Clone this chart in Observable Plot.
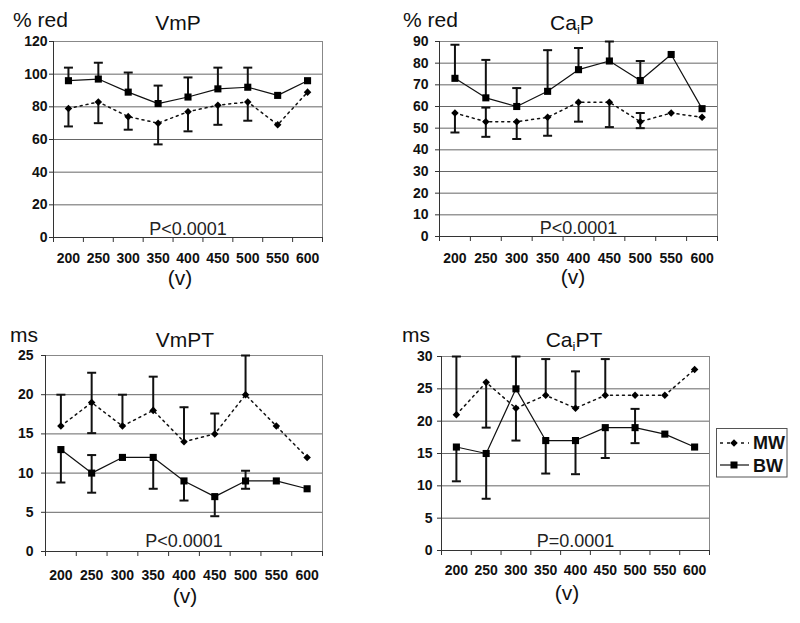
<!DOCTYPE html>
<html>
<head>
<meta charset="utf-8">
<script src="https://cdn.jsdelivr.net/npm/d3@7"></script>
<script src="https://cdn.jsdelivr.net/npm/@observablehq/plot@0.6"></script>
<style>
  html, body { margin: 0; padding: 0; background: #fff; }
  #wrap { position: relative; width: 800px; height: 623px; overflow: hidden; background: #fff; }
  #wrap > svg, #wrap > figure { position: absolute; margin: 0; }
</style>
</head>
<body>
<div id="wrap"></div>
<script>
// ---------- data ----------
const voltages = [200, 250, 300, 350, 400, 450, 500, 550, 600];

// VmP (% red)
const vmpMW   = [79, 83, 74, 70, 77, 81, 83, 69, 89];
const vmpMWLo = [68, 70, 66, 57, 65, 69, 71.5, null, null];
const vmpMWHi = [null, null, null, null, null, null, null, null, null];
const vmpBW   = [96, 97, 89, 82, 86, 91, 92, 87, 96];
const vmpBWLo = [null, null, null, null, null, null, null, null, null];
const vmpBWHi = [104, 107, 101, 93, 98, 104, 104, null, null];

// CaiP (% red)
const caipMW   = [57, 53, 53, 55, 62, 62, 53, 57, 55];
const caipMWLo = [48, 46, 45, 46.5, 53, 50.5, 50, null, null];
const caipMWHi = [null, 59.5, null, null, null, null, 57, null, null];
const caipBW   = [73, 64, 60, 67, 77, 81, 72, 84, 59];
const caipBWLo = [null, null, null, null, null, null, null, null, null];
const caipBWHi = [88.5, 81.5, 68.5, 86, 87, 90, 81, null, null];

// VmPT (ms)
const vmptMW   = [16, 19, 16, 18, 14, 15, 20, 16, 12];
const vmptMWLo = [null, 15.1, null, null, null, null, null, null, null];
const vmptMWHi = [20, 22.8, 20, 22.3, 18.4, 17.6, 25, null, null];
const vmptBW   = [13, 10, 12, 12, 9, 7, 9, 9, 8];
const vmptBWLo = [8.8, 7.5, null, 8, 6.5, 4.5, 8, null, null];
const vmptBWHi = [null, 12.3, null, null, null, null, 10.3, null, null];

// CaiPT (ms)
const caiptMW   = [21, 26, 22, 24, 22, 24, 24, 24, 28];
const caiptMWLo = [null, 19, 17, null, null, null, null, null, null];
const caiptMWHi = [30, null, null, 29.6, 27.7, 29.6, null, null, null];
const caiptBW   = [16, 15, 25, 17, 17, 19, 19, 18, 16];
const caiptBWLo = [10.7, 8, null, 11.9, 11.8, 14.3, 16.6, null, null];
const caiptBWHi = [null, null, 30, null, null, null, 21.9, null, null];

const ticksVmP  = [0, 20, 40, 60, 80, 100, 120];
const ticksCaiP = [0, 10, 20, 30, 40, 50, 60, 70, 80, 90];
const ticksVmPT = [0, 5, 10, 15, 20, 25];
const ticksCaiPT = [0, 5, 10, 15, 20, 25, 30];

const pVmP = "P<0.0001", pCaiP = "P<0.0001", pVmPT = "P<0.0001", pCaiPT = "P=0.0001";

// ---------- drawing ----------
const FONT = '"Liberation Sans", Arial, Helvetica, sans-serif';
const step = voltages[1] - voltages[0];
const bounds = voltages.map(v => v - step / 2).concat([voltages[voltages.length - 1] + step / 2]);

const capSym = { draw(ctx) { ctx.moveTo(-4.5, 0); ctx.lineTo(4.5, 0); } };
const diamondSym = { draw(ctx, size) { const r = Math.sqrt(size / 2); ctx.moveTo(0, -r); ctx.lineTo(r, 0); ctx.lineTo(0, r); ctx.lineTo(-r, 0); ctx.closePath(); } };

function series(vals, lo, hi) {
  const pts = voltages.map((v, i) => ({ x: v, y: vals[i] }));
  const bars = [], caps = [];
  voltages.forEach((v, i) => {
    if (lo[i] != null || hi[i] != null) {
      bars.push({ x: v, y1: lo[i] != null ? lo[i] : vals[i], y2: hi[i] != null ? hi[i] : vals[i] });
      if (lo[i] != null) caps.push({ x: v, y: lo[i] });
      if (hi[i] != null) caps.push({ x: v, y: hi[i] });
    }
  });
  return { pts, bars, caps };
}

function panel(cfg) {
  const mw = series(cfg.mw, cfg.mwLo, cfg.mwHi);
  const bw = series(cfg.bw, cfg.bwLo, cfg.bwHi);
  const yMax = cfg.ticks[cfg.ticks.length - 1];
  const chart = Plot.plot({
    width: cfg.width, height: cfg.height,
    marginLeft: cfg.m[0], marginRight: cfg.m[1], marginTop: cfg.m[2], marginBottom: cfg.m[3],
    style: { fontFamily: FONT, background: "transparent", overflow: "visible", color: "#111" },
    x: { domain: [bounds[0], bounds[bounds.length - 1]] },
    y: { domain: [0, yMax] },
    marks: [
      Plot.ruleY(cfg.ticks, { stroke: "#666", strokeWidth: 1 }),
      Plot.frame({ stroke: "#888", strokeWidth: 1 }),
      Plot.ruleX([bounds[0]], { stroke: "#333", strokeWidth: 1 }),
      Plot.ruleY([0], { stroke: "#333", strokeWidth: 1 }),
      Plot.axisY(cfg.ticks, { tickSize: 4, tickPadding: cfg.yPad, fontSize: 14, fontWeight: "bold", label: null, stroke: "#333" }),
      Plot.axisX(bounds, { tickSize: 5, tickFormat: () => "", label: null, stroke: "#333" }),
      Plot.axisX(voltages, { tickSize: 0, tickPadding: cfg.xPad, fontSize: 14, fontWeight: "bold", label: null }),
      Plot.ruleX(mw.bars, { x: "x", y1: "y1", y2: "y2", stroke: "#111", strokeWidth: 2 }),
      Plot.ruleX(bw.bars, { x: "x", y1: "y1", y2: "y2", stroke: "#111", strokeWidth: 2 }),
      Plot.dot(mw.caps, { x: "x", y: "y", symbol: capSym, stroke: "#111", strokeWidth: 2, fill: "none" }),
      Plot.dot(bw.caps, { x: "x", y: "y", symbol: capSym, stroke: "#111", strokeWidth: 2, fill: "none" }),
      Plot.line(mw.pts, { x: "x", y: "y", stroke: "#111", strokeWidth: 1.5, strokeDasharray: "2,4" }),
      Plot.line(bw.pts, { x: "x", y: "y", stroke: "#111", strokeWidth: 1.2 }),
      Plot.dot(mw.pts, { x: "x", y: "y", symbol: diamondSym, r: 3, fill: "#000", stroke: "none" }),
      Plot.dot(bw.pts, { x: "x", y: "y", symbol: "square", r: 4, fill: "#000", stroke: "none" }),
      Plot.text([cfg.p], { frameAnchor: "bottom", lineAnchor: "bottom", dy: -cfg.pDy, fontSize: 18, fill: "#222" })
    ]
  });
  chart.style.left = cfg.left + "px";
  chart.style.top = cfg.top + "px";
  return chart;
}

const wrap = document.getElementById("wrap");
wrap.appendChild(panel({ left: 0, top: 0, width: 400, height: 310, m: [53, 78, 41, 73], yPad: 2, xPad: 16, pDy: 3,
  ticks: ticksVmP, mw: vmpMW, mwLo: vmpMWLo, mwHi: vmpMWHi, bw: vmpBW, bwLo: vmpBWLo, bwHi: vmpBWHi, p: pVmP }));
wrap.appendChild(panel({ left: 400, top: 0, width: 400, height: 310, m: [39, 83, 41, 74], yPad: 7, xPad: 17, pDy: 3,
  ticks: ticksCaiP, mw: caipMW, mwLo: caipMWLo, mwHi: caipMWHi, bw: caipBW, bwLo: caipBWLo, bwHi: caipBWHi, p: pCaiP }));
wrap.appendChild(panel({ left: 0, top: 310, width: 400, height: 313, m: [45, 78, 45, 72], yPad: 8, xPad: 19, pDy: 5,
  ticks: ticksVmPT, mw: vmptMW, mwLo: vmptMWLo, mwHi: vmptMWHi, bw: vmptBW, bwLo: vmptBWLo, bwHi: vmptBWHi, p: pVmPT }));
wrap.appendChild(panel({ left: 400, top: 310, width: 400, height: 313, m: [41, 91, 46, 73], yPad: 5, xPad: 15, pDy: 4,
  ticks: ticksCaiPT, mw: caiptMW, mwLo: caiptMWLo, mwHi: caiptMWHi, bw: caiptBW, bwLo: caiptBWLo, bwHi: caiptBWHi, p: pCaiPT }));

// ---------- titles, units, axis titles, legend ----------
const ov = d3.select(wrap).append("svg")
  .attr("width", 800).attr("height", 623)
  .style("left", "0px").style("top", "0px")
  .style("font-family", FONT).style("pointer-events", "none");

function label(x, y, txt, size, anchor, weight) {
  return ov.append("text").attr("x", x).attr("y", y).attr("font-size", size)
    .attr("text-anchor", anchor || "start").attr("font-weight", weight || "normal")
    .attr("fill", "#111").text(txt);
}
function subTitle(x, y, a, sub, b) {
  const t = ov.append("text").attr("x", x).attr("y", y).attr("font-size", 21)
    .attr("text-anchor", "middle").attr("fill", "#111");
  t.append("tspan").text(a);
  t.append("tspan").attr("font-size", 13).attr("dy", 4).text(sub);
  t.append("tspan").attr("dy", -4).text(b);
}

label(13, 27, "% red", 21);
label(178, 30, "VmP", 21, "middle");
label(180, 285, "(v)", 21, "middle");

label(403, 27, "% red", 21);
subTitle(572, 30, "Ca", "i", "P");
label(573, 284, "(v)", 21, "middle");

label(10, 342, "ms", 21);
label(185, 347, "VmPT", 21, "middle");
label(185, 603, "(v)", 21, "middle");

label(402, 342, "ms", 21);
subTitle(574, 347, "Ca", "i", "PT");
label(567, 600, "(v)", 21, "middle");

// legend
ov.append("rect").attr("x", 716.5).attr("y", 428.5).attr("width", 70.5).attr("height", 48.5)
  .attr("fill", "#fff").attr("stroke", "#555").attr("stroke-width", 1);
ov.append("line").attr("x1", 720).attr("x2", 749).attr("y1", 443).attr("y2", 443)
  .attr("stroke", "#111").attr("stroke-width", 1.5).attr("stroke-dasharray", "3,4");
ov.append("path").attr("d", d3.symbol({ draw: diamondSym.draw }, 28)()).attr("transform", "translate(734,443)").attr("fill", "#000");
ov.append("line").attr("x1", 720).attr("x2", 749).attr("y1", 465).attr("y2", 465)
  .attr("stroke", "#111").attr("stroke-width", 1.2);
ov.append("rect").attr("x", 730.5).attr("y", 461.5).attr("width", 7).attr("height", 7).attr("fill", "#000");
label(753, 449, "MW", 18, "start", "bold");
label(753, 472, "BW", 18, "start", "bold");
</script>
</body>
</html>
